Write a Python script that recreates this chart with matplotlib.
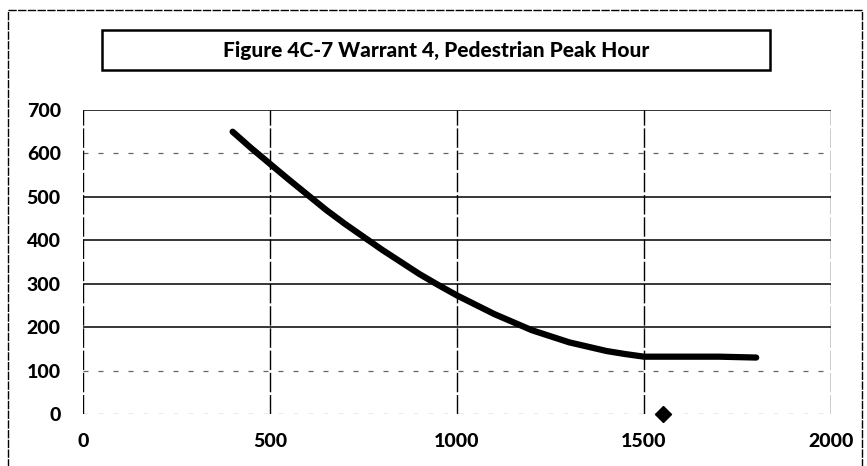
import matplotlib.pyplot as plt
from matplotlib.patches import Rectangle

# curve: total of both approaches (x) vs pedestrians crossing (y)
curve_x = [400, 450, 500, 550, 600, 650, 700, 750, 800, 850, 900, 950, 1000, 1100, 1200, 1300, 1400, 1450, 1500, 1600, 1700, 1800]
curve_y = [650, 612, 576, 540, 505, 470, 438, 408, 378, 350, 322, 297, 273, 230, 193, 165, 145, 138, 132, 132, 132, 130]

# observed point
point_x = [1550]
point_y = [0]

x_ticks = [0, 500, 1000, 1500, 2000]
y_ticks = [0, 100, 200, 300, 400, 500, 600, 700]
solid_rows = [200, 300, 400, 500, 700]
faint_rows = [0, 100, 600]

plt.rcParams['font.family'] = ['Lato', 'DejaVu Sans']

fig = plt.figure(figsize=(8.67, 4.66), dpi=100)
ax = fig.add_axes([83 / 867, 1 - 414 / 466, 748 / 867, 304 / 466])

# outer chart frame
fig.patches.append(Rectangle((8 / 867, -0.05), 854 / 867, 1.05 - 10 / 466, transform=fig.transFigure,
                             fill=False, edgecolor='black', linewidth=1.0, linestyle=(0, (6, 1))))

# title box
fig.patches.append(Rectangle((102 / 867, 1 - 70 / 466), 668 / 867, 40 / 466, transform=fig.transFigure,
                             fill=False, edgecolor='black', linewidth=1.8))
fig.text(436 / 867, 1 - 50 / 466, 'Figure 4C-7 Warrant 4, Pedestrian Peak Hour',
         ha='center', va='center', fontsize=15, fontweight='black')

for y in solid_rows:
    ax.axhline(y, color='black', linewidth=1.1, zorder=1)
for y in faint_rows:
    ax.axhline(y, color='#666666', linewidth=0.9, linestyle=(0, (4, 8)), zorder=1)
for x in x_ticks:
    ax.axvline(x, color='black', linewidth=1.0, linestyle=(0, (14, 2)), zorder=1)

ax.plot(curve_x, curve_y, color='black', linewidth=4.5, solid_capstyle='round',
        solid_joinstyle='round', zorder=3)
ax.plot(point_x, point_y, marker='D', color='black', markersize=8, linestyle='none',
        zorder=4, clip_on=False)

ax.set_xlim(0, 2000)
ax.set_ylim(0, 700)
ax.set_xticks(x_ticks)
ax.set_yticks(y_ticks)
ax.tick_params(length=0, labelsize=14, pad=16)
ax.tick_params(axis='x', pad=14)
for lab in ax.get_xticklabels() + ax.get_yticklabels():
    lab.set_fontweight('black')
for s in ax.spines.values():
    s.set_visible(False)

fig.savefig('out.png', dpi=100)
